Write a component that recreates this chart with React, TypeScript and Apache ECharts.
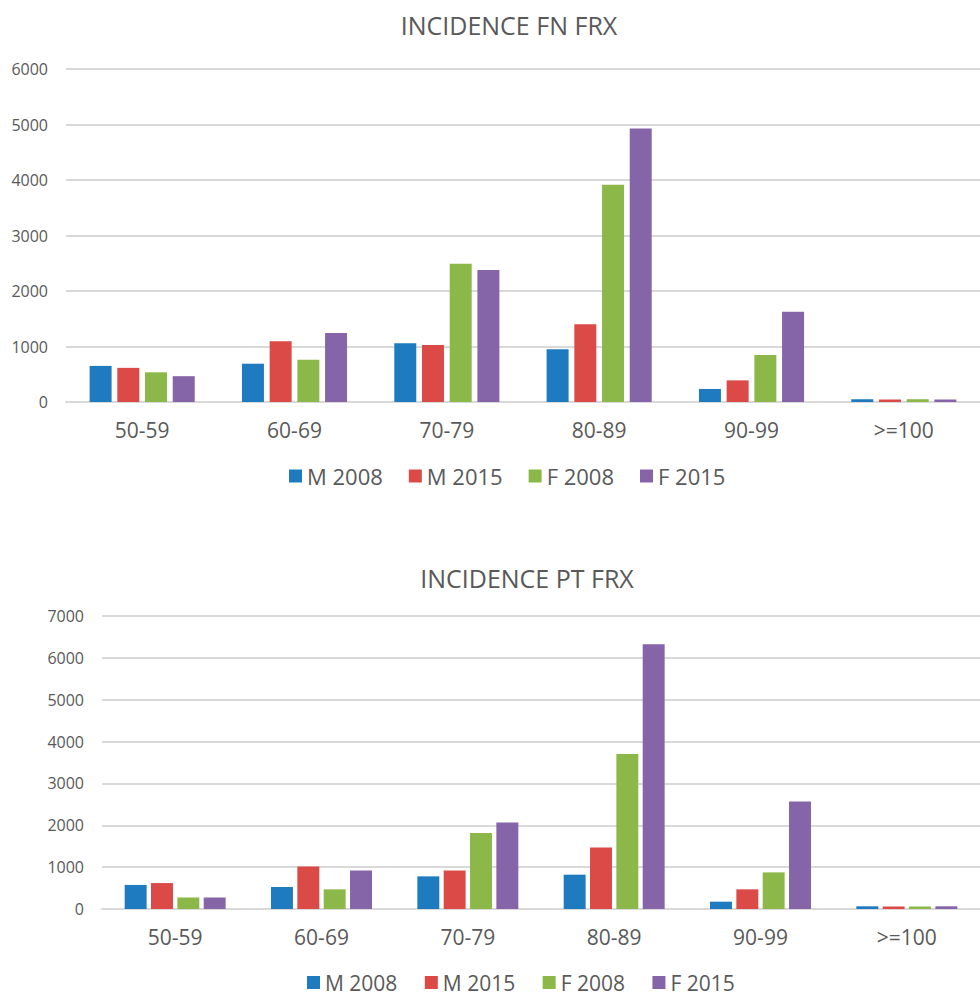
import React, { useEffect, useRef } from "react";
import * as echarts from "echarts";

const categories = ["50-59", "60-69", "70-79", "80-89", "90-99", ">=100"];
const seriesNames = ["M 2008", "M 2015", "F 2008", "F 2015"];

const fnM2008 = [650, 690, 1060, 950, 235, 50];
const fnM2015 = [615, 1095, 1025, 1400, 390, 45];
const fnF2008 = [535, 760, 2490, 3915, 845, 50];
const fnF2015 = [465, 1245, 2380, 4930, 1625, 45];

const ptM2008 = [575, 525, 780, 820, 175, 65];
const ptM2015 = [620, 1015, 920, 1470, 470, 60];
const ptF2008 = [275, 470, 1815, 3705, 875, 60];
const ptF2015 = [275, 920, 2065, 6325, 2570, 65];

const titles = ["INCIDENCE FN FRX", "INCIDENCE PT FRX"];
const colors = ["#1f7bbf", "#dc4a47", "#8cb84a", "#8664a8"];

const FONT = "'Open Sans', 'Noto Sans', sans-serif";
const TEXT = "#595959";
const GRID = "#d9d9d9";

export default function App() {
  const ref = useRef<HTMLDivElement>(null);
  useEffect(() => {
    if (!ref.current) return;
    const chart = echarts.init(ref.current, null, { renderer: "svg" });
    const fnData = [fnM2008, fnM2015, fnF2008, fnF2015];
    const ptData = [ptM2008, ptM2015, ptF2008, ptF2015];

    const xAxisBase = (gridIndex: number) => ({
      type: "category",
      gridIndex,
      data: categories,
      axisLine: { show: true, lineStyle: { color: GRID, width: 2 } },
      axisTick: { show: false },
      axisLabel: { color: TEXT, fontSize: 21, fontFamily: FONT, margin: 17 },
    });
    const yAxisBase = (gridIndex: number, max: number) => ({
      type: "value",
      gridIndex,
      min: 0,
      max,
      interval: 1000,
      axisLine: { show: false },
      axisTick: { show: false },
      axisLabel: {
        color: TEXT,
        fontSize: 16,
        fontFamily: FONT,
        margin: 18,
        formatter: (v: number) => String(v),
      },
      splitLine: { lineStyle: { color: GRID, width: 2 } },
    });

    const series: any[] = [];
    fnData.forEach((d, i) =>
      series.push({
        type: "bar",
        name: seriesNames[i],
        xAxisIndex: 0,
        yAxisIndex: 0,
        data: d,
        itemStyle: { color: colors[i] },
        barCategoryGap: "31%",
        barGap: "26%",
      })
    );
    ptData.forEach((d, i) =>
      series.push({
        type: "bar",
        name: seriesNames[i] + " ",
        xAxisIndex: 1,
        yAxisIndex: 1,
        data: d,
        itemStyle: { color: colors[i] },
        barCategoryGap: "31%",
        barGap: "20%",
      })
    );

    chart.setOption({
      animation: false,
      backgroundColor: "#ffffff",
      title: [
        {
          text: titles[0],
          left: 504,
          top: 7,
          textAlign: "center",
          textStyle: { color: TEXT, fontSize: 25, fontWeight: "normal", fontFamily: FONT },
        },
        {
          text: titles[1],
          left: 522,
          top: 560,
          textAlign: "center",
          textStyle: { color: TEXT, fontSize: 25, fontWeight: "normal", fontFamily: FONT },
        },
      ],
      legend: [
        {
          data: seriesNames,
          left: 284,
          top: 460,
          icon: "rect",
          itemWidth: 13,
          itemHeight: 13,
          itemGap: 26,
          textStyle: { color: TEXT, fontSize: 22, fontFamily: FONT },
        },
        {
          data: seriesNames.map((s) => s + " "),
          left: 302,
          top: 967,
          icon: "rect",
          itemWidth: 13,
          itemHeight: 13,
          itemGap: 22,
          textStyle: { color: TEXT, fontSize: 21, fontFamily: FONT },
        },
      ],
      grid: [
        { left: 66, top: 69, width: 924, height: 333 },
        { left: 102, top: 616, width: 889, height: 293 },
      ],
      xAxis: [xAxisBase(0), xAxisBase(1)],
      yAxis: [yAxisBase(0, 6000), yAxisBase(1, 7000)],
      series,
    });
    return () => chart.dispose();
  }, []);

  return (
    <div
      ref={ref}
      style={{ position: "fixed", left: 0, top: 0, width: 980, height: 997, background: "#fff" }}
    />
  );
}
